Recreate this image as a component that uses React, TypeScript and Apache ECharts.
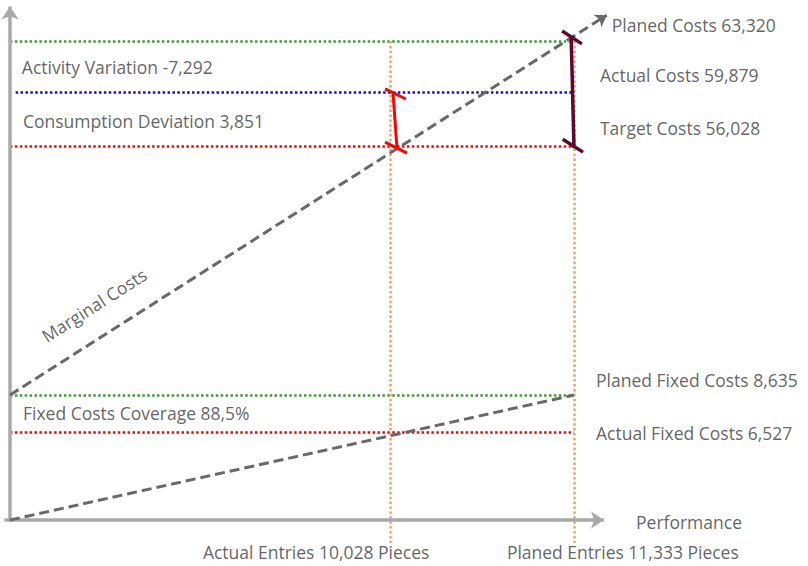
import React, { useEffect, useRef } from "react";
import * as echarts from "echarts";

// Key figures of the cost analysis
const costNames = ["Planed Costs", "Actual Costs", "Target Costs"];
const costValues = [63320, 59879, 56028];
const varianceNames = ["Activity Variation", "Consumption Deviation"];
const varianceValues = [-7292, 3851];
const fixedNames = ["Planed Fixed Costs", "Actual Fixed Costs"];
const fixedValues = [8635, 6527];
const coverageName = "Fixed Costs Coverage";
const coverageValue = 88.5;
const entryNames = ["Actual Entries", "Planed Entries"];
const entryValues = [10028, 11333];

// Schematic (not to scale) diagram levels, in diagram units 0..100
const costLevels = [100, 89.4, 78.1]; // planned, actual, target costs
const fixedLevels = [26.1, 18.4]; // planned, actual fixed costs
const entryLevels = [67.5, 100]; // actual, planned entries
const axisEnds = [105.3, 107.2]; // x-axis tip, y-axis tip
const marginalEnd = [105.8, 105.4];

// label anchors (diagram units)
const costLabelAnchors = [[106.7, 103.3], [104.6, 92.9], [104.6, 81.8]];
const varianceLabelAnchors = [[2.1, 94.6], [2.3, 83.3]];
const coverageLabelAnchor = [2.3, 22.3];
const fixedLabelAnchors = [[103.9, 29.2], [103.9, 18.2]];
const entryLabelAnchors = [[34.2, -6.7], [88.1, -6.7]];
const performanceAnchor = [111.0, -0.4];
const marginalLabelAnchor = [14.9, 44.9];

// bracket segments (diagram units)
const redBracket = [
  [[67.9, 89.4], [68.6, 77.9]],
  [[66.5, 90.0], [70.2, 87.9]],
  [[66.5, 78.9], [70.4, 76.6]],
];
const purpleBracket = [
  [[99.5, 100.6], [100.0, 77.7]],
  [[97.9, 102.1], [101.4, 99.4]],
  [[98.0, 79.5], [101.6, 76.8]],
];

const fmtInt = (n: number) => n.toLocaleString("en-US");
const fmtPct = (n: number) => n.toFixed(1).replace(".", ",") + "%";

export default function App() {
  const ref = useRef<HTMLDivElement>(null);
  useEffect(() => {
    if (!ref.current) return;
    const chart = echarts.init(ref.current, undefined, { renderer: "svg" });
    const font = "'Open Sans', 'Noto Sans', sans-serif";
    const textColor = "#3a3a3a";
    const fontSize = 17.5;

    const green = "#3d9a35";
    const blue = "#0a0aff";
    const red = "#ff0000";
    const orange = "#f7a060";

    const dotted = (color: string) => ({ color, width: 2.5, type: [2.5, 2.4], opacity: 1 });

    const levelLines = [
      { coords: [[0, costLevels[0]], [100, costLevels[0]]], lineStyle: dotted(green) },
      { coords: [[1, costLevels[1]], [100, costLevels[1]]], lineStyle: dotted(blue) },
      { coords: [[0, costLevels[2]], [100, costLevels[2]]], lineStyle: dotted(red) },
      { coords: [[0, fixedLevels[0]], [100, fixedLevels[0]]], lineStyle: dotted(green) },
      { coords: [[0, fixedLevels[1]], [100, fixedLevels[1]]], lineStyle: dotted(red) },
    ];
    const verticals = entryLevels.map((x) => ({
      coords: [[x, costLevels[0]], [x, -4.8]],
      lineStyle: dotted(orange),
    }));

    const labelItem = (name: string, v: number[], extra: any = {}) => ({
      name,
      value: v,
      label: extra,
    });

    const labels = [
      ...costNames.map((n, i) => labelItem(`${n} ${fmtInt(costValues[i])}`, costLabelAnchors[i])),
      ...varianceNames.map((n, i) => labelItem(`${n} ${fmtInt(varianceValues[i])}`, varianceLabelAnchors[i])),
      labelItem(`${coverageName} ${fmtPct(coverageValue)}`, coverageLabelAnchor),
      ...fixedNames.map((n, i) => labelItem(`${n} ${fmtInt(fixedValues[i])}`, fixedLabelAnchors[i])),
      ...entryNames.map((n, i) => labelItem(`${n} ${fmtInt(entryValues[i])} Pieces`, entryLabelAnchors[i])),
      labelItem("Performance", performanceAnchor),
      labelItem("Marginal Costs", marginalLabelAnchor, { position: "inside", rotate: 32.5, align: "center" }),
    ];

    const solid = (color: string, width: number) => ({ color, width, type: "solid" as const, opacity: 1 });
    const dashed = { color: "#686868", width: 3, type: [10, 5], opacity: 1 };

    chart.setOption({
      animation: false,
      grid: { left: 4.36, width: 141 * 5.64, top: 2.7, height: 117 * 4.79, containLabel: false },
      xAxis: { type: "value", min: -1, max: 140, show: false },
      yAxis: { type: "value", min: -9, max: 108, show: false },
      series: [
        {
          type: "lines",
          coordinateSystem: "cartesian2d",
          silent: true,
          symbol: "none",
          z: 1,
          data: [...levelLines, ...verticals],
        },
        {
          type: "lines",
          coordinateSystem: "cartesian2d",
          silent: true,
          symbol: ["none", "arrow"],
          symbolSize: [11, 13],
          lineStyle: solid("#a9a9a9", 3.5),
          z: 2,
          data: [
            { coords: [[-1, 0], [axisEnds[0], 0]] },
            { coords: [[0, -0.4], [0, axisEnds[1]]] },
          ],
        },
        {
          type: "lines",
          coordinateSystem: "cartesian2d",
          silent: true,
          symbol: ["none", "arrow"],
          symbolSize: [9, 11],
          lineStyle: dashed,
          z: 3,
          data: [{ coords: [[0, fixedLevels[0]], marginalEnd] }],
        },
        {
          type: "lines",
          coordinateSystem: "cartesian2d",
          silent: true,
          symbol: "none",
          lineStyle: dashed,
          z: 3,
          data: [{ coords: [[0, 0], [entryLevels[1], fixedLevels[0]]] }],
        },
        {
          type: "lines",
          coordinateSystem: "cartesian2d",
          silent: true,
          symbol: "none",
          lineStyle: solid(red, 3),
          z: 4,
          data: redBracket.map((c) => ({ coords: c })),
        },
        {
          type: "lines",
          coordinateSystem: "cartesian2d",
          silent: true,
          symbol: "none",
          lineStyle: solid("#5c0a30", 3.5),
          z: 4,
          data: purpleBracket.map((c) => ({ coords: c })),
        },
        {
          type: "scatter",
          silent: true,
          clip: false,
          symbolSize: 0,
          z: 5,
          label: {
            show: true,
            position: "right",
            distance: 0,
            formatter: "{b}",
            color: textColor,
            fontFamily: font,
            fontSize,
          },
          data: labels,
        },
      ],
    });
    return () => chart.dispose();
  }, []);
  return (
    <div
      ref={ref}
      style={{ position: "fixed", left: 0, top: 0, width: 808, height: 566, background: "#fff" }}
    />
  );
}
